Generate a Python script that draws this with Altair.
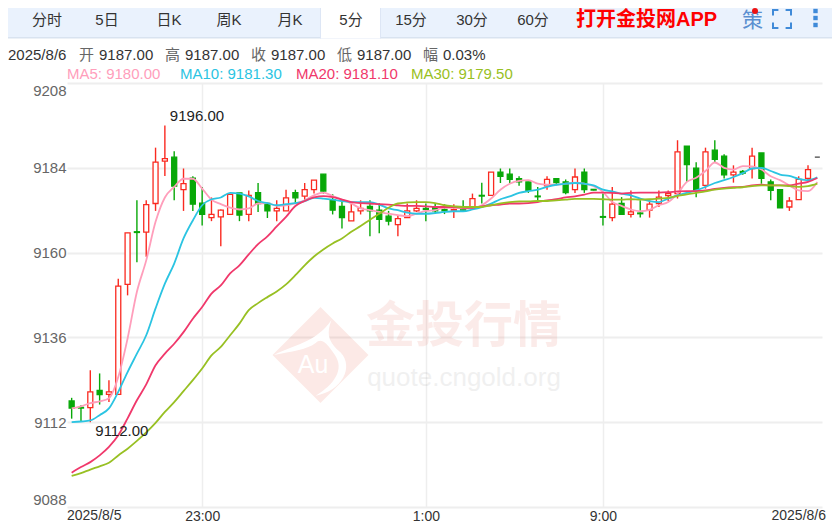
import altair as alt
import pandas as pd

opens = [9118,9116.2,9116.1,9121,9119.9,9119.9,9151,9165.9,9165.8,9173.9,9185.9,9187,9177.8,9181.1,9174,
         9169.9,9170.1,9170.8,9176.9,9170.8,9177,9173.9,9171.8,9171.8,9177,9176,9177.8,9182.2,9175,9173.1,
         9169,9171.8,9173.1,9172,9170.3,9167.9,9169.9,9171.8,9172.5,9173,9172.2,9172,9172.2,9172.9,9176.2,
         9176.2,9182.8,9182.2,9180.9,9180,9176,9178.9,9180.9,9180,9177.8,9182.8,9177.9,9170.2,9169.9,9173.9,
         9170.8,9171.2,9172,9173.9,9176.1,9176.7,9190.1,9183.9,9179,9189,9187.3,9182,9183,9183.8,9188.2,
         9180,9177.8,9172.9,9175,9181,9187]
closes = [9116,9116,9120.6,9119.8,9120.6,9150.5,9165.6,9165.7,9173.6,9185.6,9186.6,9178.8,9179.5,9173.7,9170.8,
          9170.8,9172,9176.5,9170.6,9176.2,9173.9,9171.8,9172.5,9175.5,9175.5,9177.8,9180.5,9177.4,9172,9169.9,
          9171.5,9172.5,9171.8,9169.4,9168.9,9169.6,9171.8,9172.5,9172.2,9171.8,9171.8,9172.2,9172,9175.3,9176,
          9182.8,9181.6,9180.7,9180,9177.6,9175.8,9180.7,9179.8,9177,9181.4,9177.8,9177.7,9170,9173.7,9170.8,
          9171.5,9171,9173.7,9175.7,9176.7,9188.5,9184.9,9177.6,9188.5,9186.4,9182,9182.8,9182.5,9187.3,9181,
          9177.6,9172.7,9174.6,9180.7,9183.5,9187]
highs = [9118.9,9116.8,9126.7,9125.8,9123.9,9152.6,9165.6,9174.8,9174.8,9189.7,9196,9188.7,9183.8,9181.6,9178.6,
         9175.6,9172.2,9176.6,9176.9,9177.6,9179.7,9174.2,9174.8,9177.8,9177.8,9179.7,9180.5,9182.2,9176.5,9174.3,
         9173.9,9174.8,9174.8,9174,9171.8,9170.6,9173.9,9174.8,9173.9,9174,9173.7,9173.7,9174.8,9176.7,9179.8,
         9182.8,9183.8,9183.8,9181.6,9180,9178.6,9181.6,9180.9,9180.7,9183.8,9183.8,9178,9176.7,9178.6,9175.7,
         9177.6,9174.8,9174.8,9177.6,9177.6,9191.8,9190.1,9185.6,9189.7,9191.8,9187.8,9184.7,9183.4,9189.7,9188.2,
         9180.7,9177.8,9175.7,9181.6,9184.7,9187]
lows = [9113,9112.1,9112,9117,9117.7,9119.9,9147.9,9157.3,9158.8,9171.8,9181.7,9174.8,9171.8,9171.8,9167.7,
        9168.9,9161.8,9170.8,9168.9,9168.9,9171.5,9169.8,9168.9,9171.8,9174,9174.6,9176.7,9176.7,9170.8,9166.8,
        9169,9170.8,9164.6,9165.5,9167.7,9164.6,9169.9,9171.5,9168.9,9171.1,9170.9,9169.8,9171.5,9172.9,9173.9,
        9176.2,9179.7,9179.7,9178.9,9176.9,9174.8,9177.8,9179,9176.5,9176.9,9176.9,9177.6,9167.7,9168.9,9170.8,
        9169.9,9169.9,9169.9,9172.9,9174.6,9175.3,9180,9175.7,9178.1,9185.5,9181,9179.8,9182,9181,9179.5,
        9174.8,9172.7,9171.8,9175,9180.5,9187]

ma5 = [9115.9,9116.5,9117.4,9117.9,9118.8,9124.8,9135.7,9148.9,9157.8,9168.7,9175.6,9178.6,9180.9,9180.9,9178.1,
       9175,9173.7,9172.7,9172.2,9172.5,9173.9,9174,9173.2,9173.4,9173.9,9174.8,9176.2,9177,9176,9175,
       9173.9,9172.5,9172,9171.5,9171,9170.6,9170.3,9171,9171.8,9172,9172.7,9172.7,9172.5,9172.5,9173.4,
       9175.3,9177.8,9179.5,9180.3,9180.5,9179.5,9179.2,9179.2,9179.5,9179.8,9179.5,9178.8,9177.2,9174.3,9173.2,
       9172.2,9171.7,9172.1,9173.4,9174.3,9176.7,9180,9181.2,9183.1,9185.5,9184,9183.5,9184.5,9184.4,9183.5,
       9181.6,9180.5,9179,9177.6,9177.4,9180]
ma10 = [9112,9112.2,9112.5,9114,9115.9,9120.6,9126.2,9131.4,9136.6,9144.2,9151.2,9156.9,9164,9169.1,9173.4,
        9175.1,9175.6,9176.9,9176.7,9175.9,9174.6,9174,9173.4,9173.7,9174,9174.6,9175.5,9175.3,9175,9174.6,
        9174.3,9174.3,9174.3,9173.6,9172.5,9172,9171.3,9171,9171,9171.2,9171.5,9171.7,9171.7,9172.2,9172.9,
        9173.9,9175.1,9175.9,9176.9,9177.4,9177.8,9178.6,9179.2,9179.5,9179.7,9179.5,9179,9177.8,9177.3,9176.7,
        9176.2,9175.3,9174.6,9174.3,9175.3,9176.2,9176.9,9177.6,9178.6,9179.7,9180.5,9181.4,9182.5,9183.8,9184,
        9183.1,9182.1,9181.7,9180.9,9180.5,9181.3]
ma20 = [9097.7,9099.3,9100.7,9102.6,9105,9108.3,9113.1,9118.2,9122.7,9128.1,9131.4,9134.2,9137.5,9141.3,9144.6,
        9148.4,9150.7,9154.1,9156.4,9159.5,9162.4,9164.6,9167.4,9170.1,9173.2,9174.6,9175.6,9176,9175.7,9175,
        9174.3,9174,9173.9,9173.7,9173.6,9173.4,9173.2,9173.2,9173.1,9172.9,9172.9,9172.9,9172.7,9172.7,9173.1,
        9173.4,9173.6,9173.9,9173.9,9174,9174.3,9174.8,9175.1,9175.6,9175.9,9176.4,9177,9177,9176.9,9176.7,
        9176.9,9177,9177,9177,9177.1,9177.3,9177.4,9177.4,9177.6,9178,9178.3,9178.5,9178.6,9179,9179.2,
        9179,9179,9179,9179.5,9180,9181.1]
ma30 = [9096.8,9097.6,9098.6,9099.5,9100.5,9102.6,9104.5,9106.7,9109.1,9111.8,9114.9,9117.7,9120.8,9123.9,9127.2,
        9130.9,9133.3,9136.6,9139.9,9143.7,9145.7,9147.4,9149,9151,9153.6,9156.4,9158.9,9160.9,9162.6,9164,
        9165.9,9167.5,9169.3,9171,9172.7,9173.9,9174.2,9174.3,9174.3,9174,9173.4,9173.1,9172.9,9172.9,9172.9,
        9173.4,9173.9,9174.3,9174.5,9174.5,9174.6,9174.6,9174.8,9175,9175.2,9175.2,9175.2,9175.1,9175,9175,
        9175.1,9175,9175.1,9175.3,9175.5,9176,9176.5,9176.9,9177.3,9177.8,9178.1,9178.3,9178.5,9178.8,9179,
        9179,9179,9178.8,9178.6,9178.8,9179.5]

y_ticks = [9088, 9112, 9136, 9160, 9184, 9208]
x_ticks = [14, 38, 57]
tabs = [("分时", 47), ("5日", 107), ("日K", 169), ("周K", 229), ("月K", 290), ("5分", 351), ("15分", 411), ("30分", 472), ("60分", 533)]
quote = [("2025/8/6", 8, "#333333"), ("开", 79, "#666666"), ("9187.00", 99, "#333333"), ("高", 165, "#666666"),
         ("9187.00", 185, "#333333"), ("收", 251, "#666666"), ("9187.00", 271, "#333333"), ("低", 337, "#666666"),
         ("9187.00", 357, "#333333"), ("幅", 423, "#666666"), ("0.03%", 443, "#333333")]
ma_labels = [("MA5: 9180.00", 67, "#ff9ebb"), ("MA10: 9181.30", 180, "#2bc4e2"), ("MA20: 9181.10", 296, "#f0386b"), ("MA30: 9179.50", 411, "#98c023")]

FONT = "Liberation Sans, Noto Sans CJK SC"
PL, PT, W, H = 67, 83, 755, 424   # plot area position on the page
OX, OY = PL, PT


def dirn(o, c):
    return "up" if c > o else ("down" if c < o else "flat")


df = pd.DataFrame({"i": range(len(opens)), "o": opens, "c": closes, "h": highs, "l": lows})
df["d"] = [dirn(o, c) for o, c in zip(opens, closes)]
ma_df = pd.DataFrame({"i": range(len(ma5)), "MA5": ma5, "MA10": ma10, "MA20": ma20, "MA30": ma30})

xs = alt.Scale(domain=[-0.5, 80.5], nice=False, zero=False, padding=0)
ys = alt.Scale(domain=[9088, 9208], nice=False, zero=False)
fill_s = alt.Scale(domain=["up", "down", "flat"], range=["#ffffff", "#08a808", "#444444"])
stroke_s = alt.Scale(domain=["up", "down", "flat"], range=["#fa2a20", "#08a808", "#444444"])

one = alt.Data(values=[{}])


def txt(s, X, Y, size=15, color="#333333", align="left", weight="normal", font=FONT, opacity=1.0):
    return alt.Chart(one).mark_text(text=s, align=align, baseline="middle", fontSize=size, color=color,
                                    fontWeight=weight, font=font, opacity=opacity).encode(
        x=alt.value(X - OX), y=alt.value(Y - OY))


def rect(x0, x1, y0, y1, color):
    return alt.Chart(one).mark_rect(color=color).encode(
        x=alt.value(x0 - OX), x2=alt.value(x1 - OX), y=alt.value(y0 - OY), y2=alt.value(y1 - OY))


def sym(shape, X, Y, half, color, filled=True, sw=0, opacity=1.0):
    return alt.Chart(one).mark_point(shape=shape, size=(2 * half) ** 2, filled=filled, color=color,
                                     strokeWidth=sw, opacity=opacity).encode(
        x=alt.value(X - OX), y=alt.value(Y - OY))


# axes and grid
base = alt.Chart(df).mark_rule(opacity=0).encode(
    x=alt.X("i:Q", scale=xs, title=None,
            axis=alt.Axis(values=x_ticks, grid=True, gridColor="#eeeeee", gridWidth=1.5, domain=False, ticks=False,
                          labelExpr="datum.value==14?'23:00':datum.value==38?'1:00':'9:00'",
                          labelColor="#333333", labelFont=FONT, labelFontSize=14, labelPadding=2)),
    y=alt.Y("l:Q", scale=ys, title=None,
            axis=alt.Axis(values=y_ticks, grid=True, gridColor="#eeeeee", gridWidth=2, domain=False, ticks=False,
                          format="d", labelColor="#666666", labelFont=FONT, labelFontSize=15, labelPadding=1,
                          labelFlush=True)),
)

# watermark
wm = [
    sym("M0,-1 L1,0 L0,1 L-1,0 Z", 320.5, 355, 48, "#e8695a", opacity=0.15),
    sym("M-0.97,0 C-0.6,-0.2 -0.1,-0.25 0.23,-0.73 C0.1,-0.4 0.2,-0.25 0.42,-0.05 C0.7,0.25 0.45,0.75 -0.1,0.85 "
        "C0.3,0.6 0.5,0.3 0.3,0 C0.1,-0.3 0,-0.35 -0.1,-0.25 C-0.3,-0.1 -0.6,-0.08 -0.97,0 Z", 320.5, 355, 48, "#ffffff"),
    txt("Au", 313, 365, 25, "#ffffff", "center"),
    txt("金投行情", 464, 327, 49, "#e8695a", "center", "bold", opacity=0.13),
    txt("quote.cngold.org", 464, 378, 26, "#999999", "center", opacity=0.14),
]

# candles
wick = alt.Chart(df).mark_rule(strokeWidth=1.4).encode(
    x=alt.X("i:Q", scale=xs), y=alt.Y("h:Q", scale=ys), y2="l:Q",
    color=alt.Color("d:N", scale=stroke_s, legend=None))
body = alt.Chart(df).mark_bar(size=5, strokeWidth=1.3).encode(
    x=alt.X("i:Q", scale=xs), y=alt.Y("o:Q", scale=ys), y2="c:Q",
    fill=alt.Fill("d:N", scale=fill_s, legend=None),
    stroke=alt.Stroke("d:N", scale=stroke_s, legend=None))


def ma_line(col, color):
    return alt.Chart(ma_df).mark_line(color=color, strokeWidth=1.8, interpolate="monotone").encode(
        x=alt.X("i:Q", scale=xs), y=alt.Y(f"{col}:Q", scale=ys))


lines = [ma_line("MA5", "#ff9ebb"), ma_line("MA10", "#2bc4e2"), ma_line("MA20", "#f0386b"), ma_line("MA30", "#98c023")]

ann_hi = alt.Chart(pd.DataFrame({"i": [10], "v": [9196.0], "t": ["9196.00"]})).mark_text(
    align="left", baseline="middle", dx=5, dy=-9, fontSize=15, font=FONT, color="#222222").encode(
    x=alt.X("i:Q", scale=xs), y=alt.Y("v:Q", scale=ys), text="t:N")
ann_lo = alt.Chart(pd.DataFrame({"i": [2], "v": [9112.0], "t": ["9112.00"]})).mark_text(
    align="left", baseline="middle", dx=5, dy=9, fontSize=15, font=FONT, color="#222222").encode(
    x=alt.X("i:Q", scale=xs), y=alt.Y("v:Q", scale=ys), text="t:N")

# page furniture
chrome = [rect(0, 840, 0, 37, "#eaf2fd"), rect(0, 840, 37, 38.5, "#d9e3f0"),
          rect(320, 381, 3, 38.5, "#dde6f5"), rect(321, 380, 5, 38.5, "#ffffff"), rect(320, 381, 3, 5, "#0a2a85")]
for s, cx in tabs:
    chrome.append(txt(s, cx, 20, 15, "#333333", "center"))
chrome.append(txt("打开金投网APP", 576, 20, 20, "#ff0000", "left", "bold"))
chrome.append(txt("策", 742, 21, 21, "#5b8fd0", "left"))
chrome.append(sym("circle", 755, 11, 3, "#ee1111"))
chrome.append(sym("M-1,-0.4 L-1,-1 L-0.4,-1 M0.4,-1 L1,-1 L1,-0.4 M1,0.4 L1,1 L0.4,1 M-0.4,1 L-1,1 L-1,0.4",
                  782, 19, 9, "#3f8ad8", filled=False, sw=2))
for yy in (11, 18, 25):
    chrome.append(sym("square", 815.5, yy, 2.2, "#3f8ad8"))
for s, x0, col in quote:
    chrome.append(txt(s, x0, 55, 15, col))
for s, x0, col in ma_labels:
    chrome.append(txt(s, x0, 74, 15, col))
chrome.append(txt("2025/8/5", 67, 516, 14, "#333333"))
chrome.append(txt("2025/8/6", 826, 516, 14, "#333333", "right"))

chart = alt.layer(base, *wm, wick, body, *lines, ann_hi, ann_lo, *chrome).properties(
    width=W, height=H, background="#ffffff",
    autosize=alt.AutoSizeParams(type="none"),
    padding={"left": PL - 8, "top": PT - 8, "right": 824 - (PL - 8) - W, "bottom": 18},
).configure_view(stroke=None)

chart.save("out.html", embed_options={"renderer": "svg", "actions": False})
